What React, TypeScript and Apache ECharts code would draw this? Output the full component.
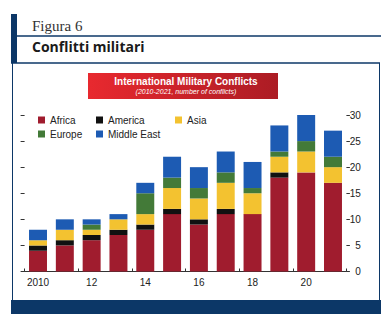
import React, { useEffect, useRef } from "react";
import * as echarts from "echarts";

const years = ["2010", "11", "12", "13", "14", "15", "16", "17", "18", "19", "20", "21"];
const africa = [4, 5, 6, 7, 8, 11, 9, 11, 11, 18, 19, 17];
const america = [1, 1, 1, 1, 1, 1, 1, 1, 0, 1, 0, 0];
const asia = [1, 2, 1, 2, 2, 4, 4, 5, 4, 3, 4, 3];
const europe = [0, 0, 1, 0, 4, 2, 2, 2, 1, 1, 2, 2];
const middleEast = [2, 2, 1, 1, 2, 4, 4, 4, 5, 5, 5, 5];

const seriesNames = ["Africa", "America", "Asia", "Europe", "Middle East"];
const seriesData = [africa, america, asia, europe, middleEast];
const colors = ["#a01c2e", "#111111", "#f3c230", "#437a38", "#1d5bb3"];

const NAVY = "#0c3767";
const FONT = "Liberation Sans, Arial, sans-serif";

export default function App() {
  const ref = useRef<HTMLDivElement>(null);
  useEffect(() => {
    if (!ref.current) return;
    const chart = echarts.init(ref.current, null, { renderer: "svg" });
    const legendPos = [
      { left: 38, top: 115 },
      { left: 96, top: 115 },
      { left: 175, top: 115 },
      { left: 38, top: 129 },
      { left: 96, top: 129 },
    ];
    chart.setOption({
      animation: false,
      backgroundColor: "#ffffff",
      grid: { left: 24.6, right: 45.6, top: 115, bottom: 50.5 },
      legend: seriesNames.map((n, i) => ({
        data: [n],
        left: legendPos[i].left,
        top: legendPos[i].top,
        padding: 0,
        icon: "rect",
        itemWidth: 7,
        itemHeight: 7,
        textStyle: { fontFamily: FONT, fontSize: 10, color: "#222" },
        selectedMode: false,
      })),
      xAxis: {
        type: "category",
        data: years,
        axisLine: { show: true, lineStyle: { color: "#333", width: 1 } },
        axisTick: { show: true, inside: true, length: 3, lineStyle: { color: "#333" } },
        axisLabel: { interval: 1, fontFamily: FONT, fontSize: 10, color: "#222", margin: 6 },
      },
      yAxis: [
        {
          type: "value",
          position: "right",
          min: 0,
          max: 30,
          interval: 5,
          splitLine: { show: false },
          axisLine: { show: false },
          axisTick: { show: true, length: 3.5, lineStyle: { color: "#333" } },
          axisLabel: { fontFamily: FONT, fontSize: 10, color: "#222", margin: 14.5, align: "right" },
        },
        {
          type: "value",
          position: "left",
          min: 0,
          max: 30,
          interval: 5,
          splitLine: { show: false },
          axisLine: { show: false },
          axisTick: { show: true, length: 4, lineStyle: { color: "#333" } },
          axisLabel: { show: false },
        },
      ],
      series: seriesNames.map((n, i) => ({
        name: n,
        type: "bar",
        stack: "total",
        barWidth: "67%",
        yAxisIndex: 0,
        itemStyle: { color: colors[i] },
        data: seriesData[i],
      })),
      graphic: [
        { type: "rect", shape: { x: 11, y: 14, width: 6, height: 49 }, style: { fill: NAVY } },
        { type: "line", shape: { x1: 17, y1: 36, x2: 381, y2: 36 }, style: { stroke: NAVY, lineWidth: 1.3 } },
        { type: "line", shape: { x1: 11, y1: 63, x2: 380, y2: 63 }, style: { stroke: NAVY, lineWidth: 1.3 } },
        { type: "line", shape: { x1: 12.5, y1: 63, x2: 12.5, y2: 300 }, style: { stroke: NAVY, lineWidth: 1 } },
        { type: "line", shape: { x1: 379.5, y1: 63, x2: 379.5, y2: 300 }, style: { stroke: NAVY, lineWidth: 1 } },
        { type: "rect", shape: { x: 11, y: 300, width: 370, height: 14 }, style: { fill: NAVY } },
        {
          type: "text",
          left: 32,
          top: 18,
          style: { text: "Figura 6", fontFamily: "Liberation Serif, Times New Roman, serif", fontSize: 15, fill: "#333" },
        },
        {
          type: "text",
          left: 32,
          top: 39,
          style: { text: "Conflitti militari", fontFamily: "Open Sans, sans-serif", fontWeight: "bold", fontSize: 14, fill: "#1a1a1a" },
        },
        {
          type: "rect",
          shape: { x: 88, y: 73, width: 190, height: 26 },
          style: {
            fill: new echarts.graphic.LinearGradient(0, 0, 1, 0, [
              { offset: 0, color: "#e8292f" },
              { offset: 1, color: "#ac1c24" },
            ]),
          },
        },
        {
          type: "text",
          x: 186,
          y: 81,
          style: {
            text: "International Military Conflicts",
            fontFamily: FONT,
            fontWeight: "bold",
            fontSize: 10,
            fill: "#ffffff",
            align: "center",
            verticalAlign: "middle",
          },
        },
        {
          type: "text",
          x: 186,
          y: 91.5,
          style: {
            text: "(2010-2021, number of conflicts)",
            fontFamily: FONT,
            fontStyle: "italic",
            fontSize: 7,
            fill: "#ffffff",
            align: "center",
            verticalAlign: "middle",
          },
        },
      ],
    });
    return () => chart.dispose();
  }, []);
  return (
    <div
      ref={ref}
      style={{ position: "absolute", left: 0, top: 0, width: 392, height: 322 }}
    />
  );
}
